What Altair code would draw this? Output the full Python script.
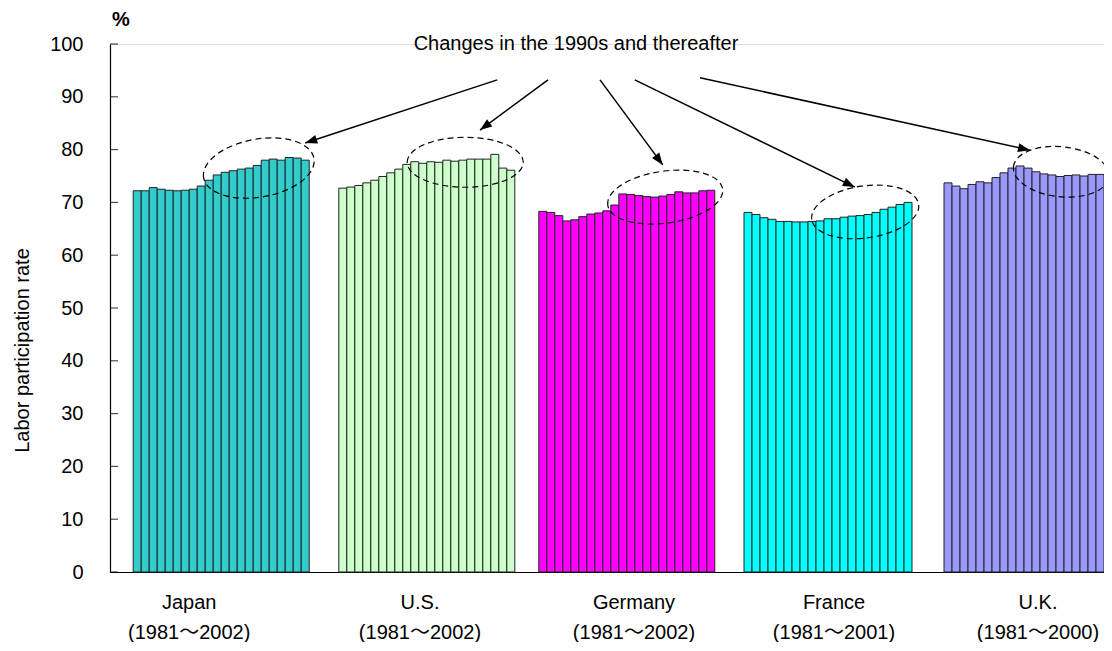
import math
import altair as alt
import pandas as pd

# ---------------- data ----------------
countries = ["Japan", "U.S.", "Germany", "France", "U.K."]
periods = ["(1981～2002)", "(1981～2002)", "(1981～2002)", "(1981～2001)", "(1981～2000)"]
colors = ["#33CCCC", "#CCFFCC", "#FF00FF", "#00FFFF", "#9999FF"]

japan = [72.2, 72.2, 72.8, 72.5, 72.3, 72.2, 72.3, 72.5, 73.1, 74.2, 75.2,
         75.7, 76.0, 76.3, 76.5, 77.0, 78.0, 78.2, 78.0, 78.5, 78.4, 78.0]
us = [72.7, 72.9, 73.2, 73.7, 74.2, 74.9, 75.6, 76.3, 77.2, 77.7, 77.4,
      77.7, 77.6, 78.0, 77.8, 78.0, 78.2, 78.2, 78.2, 79.1, 76.5, 76.1]
germany = [68.3, 68.1, 67.5, 66.5, 66.7, 67.3, 67.8, 68.0, 68.4, 69.5, 71.6,
           71.5, 71.3, 71.1, 71.0, 71.2, 71.5, 72.0, 71.8, 71.8, 72.2, 72.3]
france = [68.1, 67.7, 67.1, 66.8, 66.4, 66.4, 66.3, 66.3, 66.4, 66.5, 66.9,
          66.9, 67.2, 67.4, 67.5, 67.7, 68.1, 68.7, 69.1, 69.6, 70.0]
uk = [73.7, 73.1, 72.6, 73.4, 73.9, 73.7, 74.7, 75.6, 76.5, 76.9, 76.5,
      75.8, 75.4, 75.2, 74.9, 75.1, 75.2, 75.0, 75.3, 75.3]
series = [japan, us, germany, france, uk]
start_year = 1981

# layout of the bar groups on a slot axis (one slot = one bar)
group_start = [2.9, 28.6, 53.6, 79.25, 104.25]
label_x = [9.9, 38.75, 65.5, 90.5, 116.0]
y_ticks = list(range(0, 101, 10))

annotation_text = "Changes in the 1990s and thereafter"
# ellipse annotations: centre (slot, value), width/height px, tilt deg
ell_x = [18.6, 44.4, 69.4, 94.4, 118.9]
ell_y = [76.5, 77.6, 71.0, 68.2, 75.8]
ell_w = [112, 116, 116, 108, 96]
ell_h = [58, 50, 52, 52, 50]
ell_angle = [350, 0, 352, 352, 6]
# arrows: from (x0,y0) to (x1,y1)
arr_x0 = [48.4, 54.75, 61.25, 65.6, 73.75]
arr_y0 = [93.2, 93.2, 93.2, 93.2, 93.6]
arr_x1 = [24.4, 46.25, 69.1, 93.1, 115.0]
arr_y1 = [81.25, 83.7, 77.1, 72.9, 79.9]

# ---------------- geometry ----------------
W, H = 994, 528
X_MAX = 124.25
px_x = W / X_MAX
px_y = H / 100.0
FONT = "Liberation Sans"
LABEL_FONT = "'Liberation Sans', 'Noto Sans CJK JP'"

rows = []
for c, vals, s0 in zip(countries, series, group_start):
    for i, v in enumerate(vals):
        rows.append({"country": c, "year": start_year + i, "value": v,
                     "x": s0 + i, "x2": s0 + i + 1})
bars_df = pd.DataFrame(rows)

k = 0.5523
def ellipse_path(r):
    a, b = 1.0, r
    return (f"M{-a},0 C{-a},{-k*b:.4f} {-k*a:.4f},{-b} 0,{-b} "
            f"C{k*a:.4f},{-b} {a},{-k*b:.4f} {a},0 "
            f"C{a},{k*b:.4f} {k*a:.4f},{b} 0,{b} "
            f"C{-k*a:.4f},{b} {-a},{k*b:.4f} {-a},0 Z")

ell_df = pd.DataFrame({
    "x": ell_x, "y": ell_y,
    "path": [ellipse_path(h / w) for w, h in zip(ell_w, ell_h)],
    "size": [w * w for w in ell_w],
    "angle": ell_angle,
})

arr_angle = []
for x0, y0, x1, y1 in zip(arr_x0, arr_y0, arr_x1, arr_y1):
    dx = (x1 - x0) * px_x
    dy = -(y1 - y0) * px_y
    arr_angle.append(math.degrees(math.atan2(dx, -dy)) % 360)
arr_df = pd.DataFrame({"x0": arr_x0, "y0": arr_y0, "x1": arr_x1, "y1": arr_y1,
                       "angle": arr_angle})

lab_df = pd.DataFrame({"x": label_x, "line1": countries, "line2": periods})
tick_df = pd.DataFrame({"v": y_ticks})

xscale = alt.Scale(domain=[0, X_MAX], nice=False, zero=False)
yscale = alt.Scale(domain=[0, 100], nice=False)

bars = alt.Chart(bars_df).mark_bar(stroke="#222222", strokeWidth=1, opacity=1).encode(
    x=alt.X("x:Q", scale=xscale,
            axis=alt.Axis(title=None, labels=False, ticks=False, grid=False,
                          domainColor="black", domainWidth=1.2)),
    x2="x2:Q",
    y=alt.Y("value:Q", scale=yscale,
            axis=alt.Axis(title="Labor participation rate", values=y_ticks,
                          grid=False, ticks=False, domainColor="black",
                          domainWidth=1.2, labelFontSize=20, labelColor="black",
                          labelFont=FONT, labelPadding=27,
                          titleFont=FONT, titleFontSize=20, titleFontWeight="normal",
                          titleColor="black", titleAngle=270, titleX=-88,
                          titleY=306, titleAlign="center", titleBaseline="middle")),
    y2=alt.datum(0),
    color=alt.Color("country:N", scale=alt.Scale(domain=countries, range=colors),
                    legend=None),
)

ticks = alt.Chart(tick_df).mark_tick(orient="horizontal", color="black",
                                     thickness=1.2, size=8).encode(
    y=alt.Y("v:Q", scale=yscale), x=alt.value(4))

ellipses = alt.Chart(ell_df).mark_point(filled=False, stroke="black", strokeWidth=1.2,
                                        strokeDash=[6, 4], opacity=1).encode(
    x=alt.X("x:Q", scale=xscale), y=alt.Y("y:Q", scale=yscale),
    shape=alt.Shape("path:N", scale=None),
    size=alt.Size("size:Q", scale=None),
    angle=alt.Angle("angle:Q", scale=None),
)

arrow_lines = alt.Chart(arr_df).mark_rule(color="black", strokeWidth=1.5).encode(
    x=alt.X("x0:Q", scale=xscale), y=alt.Y("y0:Q", scale=yscale),
    x2="x1:Q", y2="y1:Q")

arrow_heads = alt.Chart(arr_df).mark_point(filled=True, color="black", opacity=1,
                                           shape="M0,0 L0.75,2 L-0.75,2 Z",
                                           size=144).encode(
    x=alt.X("x1:Q", scale=xscale), y=alt.Y("y1:Q", scale=yscale),
    angle=alt.Angle("angle:Q", scale=None))

note = alt.Chart(pd.DataFrame({"t": [annotation_text]})).mark_text(
    font=FONT, fontSize=20, color="black", align="center", baseline="middle").encode(
    x=alt.value(466), y=alt.value(0), text="t:N")

pct = alt.Chart(pd.DataFrame({"t": ["%"]})).mark_text(
    font=FONT, fontSize=20, fontWeight="bold", color="black", align="center",
    baseline="middle").encode(x=alt.value(11), y=alt.value(-24), text="t:N")

lab1 = alt.Chart(lab_df).mark_text(font=LABEL_FONT, fontSize=20, color="black",
                                   align="center", baseline="middle").encode(
    x=alt.X("x:Q", scale=xscale), y=alt.value(559), text="line1:N")
lab2 = alt.Chart(lab_df).mark_text(font=LABEL_FONT, fontSize=20, color="black",
                                   align="center", baseline="middle").encode(
    x=alt.X("x:Q", scale=xscale), y=alt.value(589), text="line2:N")

chart = alt.layer(bars, ticks, ellipses, arrow_lines, arrow_heads, note, pct,
                  lab1, lab2).properties(
    width=W, height=H,
    autosize=alt.AutoSizeParams(type="none"),
    padding={"left": 102, "top": 36, "right": 0, "bottom": 70},
).configure_view(stroke=None).configure(background="white")

chart.save("out.html", embed_options={"renderer": "svg", "actions": False})
